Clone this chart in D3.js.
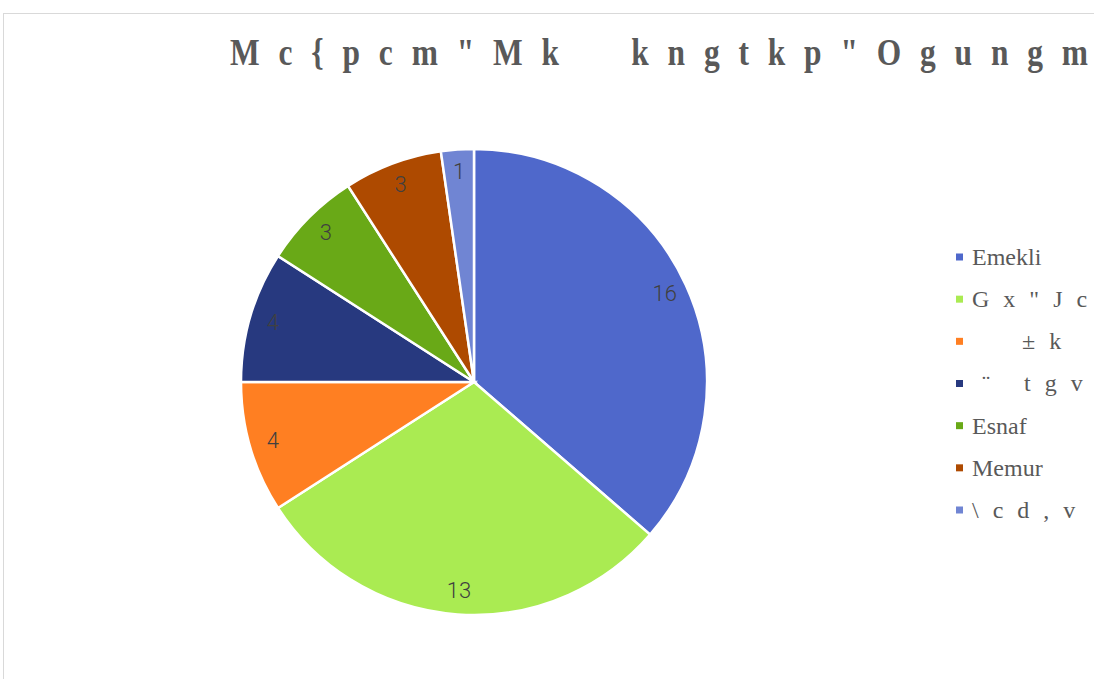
<!DOCTYPE html>
<html>
<head>
<meta charset="utf-8">
<script src="https://d3js.org/d3.v7.min.js"></script>
<style>
  body { margin: 0; background: #fff; }
  text { white-space: pre; }
  .serif { font-family: "Liberation Serif", "Times New Roman", serif; }
</style>
</head>
<body>
<div id="chart"></div>
<script>
// data
var categories = ["Emekli", "G x \" J c", "     ± k", " ¨   t g v", "Esnaf", "Memur", "\\ c d , v"];
var values = [16, 13, 4, 4, 3, 3, 1];
var colors = ["#4f68cb", "#aaeb52", "#ff7f22", "#27397f", "#69a917", "#ae4a00", "#7085d3"];
var titleText = "Mc{pcm\"Mk  kngtkp\"Ogungm";

var W = 1094, H = 679;
var svg = d3.select("#chart").append("svg")
    .attr("width", W)
    .attr("height", H);

// chart frame
svg.append("rect")
    .attr("x", 3.5).attr("y", 13.5)
    .attr("width", W + 10).attr("height", H + 10)
    .attr("fill", "none")
    .attr("stroke", "#d9d9d9")
    .attr("stroke-width", 1);

// title (slightly narrow glyphs, spread out)
var sx = 0.85;
svg.append("text")
    .attr("class", "serif")
    .attr("transform", "scale(" + sx + ",1)")
    .attr("x", 230 / sx).attr("y", 65)
    .attr("font-weight", "bold")
    .attr("font-size", 37)
    .attr("textLength", 858 / sx)
    .attr("lengthAdjust", "spacing")
    .attr("fill", "#595959")
    .text(titleText);

// pie
var cx = 474, cy = 382, r = 233;
var data = categories.map(function(c, i) { return { name: c, value: values[i], color: colors[i] }; });

var pie = d3.pie().sort(null).value(function(d) { return d.value; });
var arc = d3.arc().innerRadius(0).outerRadius(r);
var labelArc = d3.arc().innerRadius(r * 0.9).outerRadius(r * 0.9);

var g = svg.append("g").attr("transform", "translate(" + cx + "," + cy + ")");

g.selectAll("path")
  .data(pie(data))
  .enter()
  .append("path")
    .attr("d", arc)
    .attr("fill", function(d) { return d.data.color; })
    .attr("stroke", "#fff")
    .attr("stroke-width", 2.5);

g.selectAll(".lbl")
  .data(pie(data))
  .enter()
  .append("text")
    .attr("class", "lbl")
    .attr("transform", function(d) { return "translate(" + labelArc.centroid(d) + ")"; })
    .attr("text-anchor", "middle")
    .attr("dy", "0.3em")
    .attr("font-family", "Roboto, sans-serif")
    .attr("font-weight", 300)
    .attr("font-size", 22)
    .attr("fill", "#404040")
    .text(function(d) { return d.data.value; });

// legend
var legendY = d3.scalePoint().domain(categories).range([257, 510]);
var legend = svg.selectAll(".leg")
  .data(data)
  .enter()
  .append("g")
    .attr("class", "leg")
    .attr("transform", function(d) { return "translate(956," + legendY(d.name) + ")"; });

legend.append("rect")
    .attr("x", 0).attr("y", -3.5)
    .attr("width", 7).attr("height", 7)
    .attr("fill", function(d) { return d.color; });

legend.append("text")
    .attr("class", "serif")
    .attr("x", 16).attr("y", 0)
    .attr("dy", "0.33em")
    .attr("font-size", 24)
    .attr("fill", "#595959")
    .attr("letter-spacing", function(d, i) { return (i === 0 || i === 4 || i === 5) ? 0 : 4; })
    .text(function(d) { return d.name; });
</script>
</body>
</html>
